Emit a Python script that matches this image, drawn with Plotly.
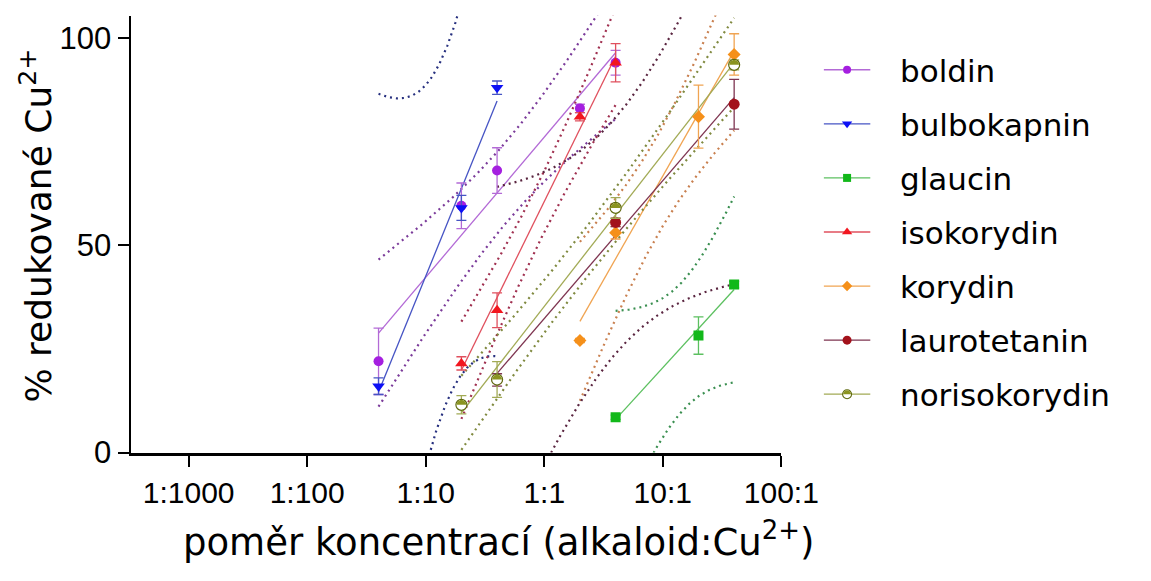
import numpy as np
import plotly.graph_objects as go

FIG_W, FIG_H = 1151, 581

# axis ticks
ratio_ticks = [0.001, 0.01, 0.1, 1, 10, 100]
ratio_labels = ["1:1000", "1:100", "1:10", "1:1", "10:1", "100:1"]
pct_ticks = [0, 50, 100]

series_names = ["boldin", "bulbokapnin", "glaucin", "isokorydin",
                "korydin", "laurotetanin", "norisokorydin"]

# concentration ratio alkaloid:Cu2+, mean % reduced Cu2+, SD
boldin_ratio = [0.04, 0.2, 0.4, 2, 4]
boldin_pct = [22, 59.5, 68, 83, 94]
boldin_sd = [8, 5.5, 5.5, 1, 3]

bulbokapnin_ratio = [0.04, 0.2, 0.4]
bulbokapnin_pct = [16, 59, 88]
bulbokapnin_sd = [2, 3, 1.6]

glaucin_ratio = [4, 20, 40]
glaucin_pct = [8.5, 28.2, 40.5]
glaucin_sd = [0.5, 4.5, 0.8]

isokorydin_ratio = [0.2, 0.4, 2, 4]
isokorydin_pct = [21.5, 34.3, 81, 94]
isokorydin_sd = [1.6, 4.2, 1, 4.6]

korydin_ratio = [2, 4, 20, 40]
korydin_pct = [27, 53, 81, 96]
korydin_sd = [0.5, 1.5, 7.6, 5]

laurotetanin_ratio = [0.4, 4, 40]
laurotetanin_pct = [17.5, 55.5, 84]
laurotetanin_sd = [1.5, 1, 6]

norisokorydin_ratio = [0.2, 0.4, 4, 40]
norisokorydin_pct = [11.5, 17.6, 59, 93.5]
norisokorydin_sd = [2.2, 4.3, 2.5, 1.2]

series_data = {
    "boldin": (boldin_ratio, boldin_pct, boldin_sd),
    "bulbokapnin": (bulbokapnin_ratio, bulbokapnin_pct, bulbokapnin_sd),
    "glaucin": (glaucin_ratio, glaucin_pct, glaucin_sd),
    "isokorydin": (isokorydin_ratio, isokorydin_pct, isokorydin_sd),
    "korydin": (korydin_ratio, korydin_pct, korydin_sd),
    "laurotetanin": (laurotetanin_ratio, laurotetanin_pct, laurotetanin_sd),
    "norisokorydin": (norisokorydin_ratio, norisokorydin_pct, norisokorydin_sd),
}

# marker colour, fit-line colour, confidence-band colour, symbol, size
styles = {
    "boldin": ("#a51fe0", "#b36ad6", "#7b3b9a", "circle", 10),
    "bulbokapnin": ("#0d10f5", "#4654c4", "#27307f", "triangle-down", 11),
    "glaucin": ("#12b81a", "#5cc060", "#3a8f50", "square", 10),
    "isokorydin": ("#f2161f", "#e0505e", "#a03050", "triangle-up", 11),
    "korydin": ("#f5901a", "#f0a452", "#c98050", "diamond", 10),
    "laurotetanin": ("#a3121b", "#7e3450", "#5a2540", "circle", 11),
    "norisokorydin": ("#8b9420", "#a2aa55", "#808a40", "circle", 11),
}

# two-sided 95 % t quantiles by degrees of freedom
T95 = {1: 12.706, 2: 4.303, 3: 3.182, 4: 2.776, 5: 2.571}

# plot rectangle in pixels
PLOT_L, PLOT_R, PLOT_T, PLOT_B = 135, 808, 16, 467
X_RANGE = [-3.49, 2.0]
Y_RANGE = [0, 105.4]
TICK_FONT = "Liberation Sans, Arial, sans-serif"
TEXT_FONT = "DejaVu Sans, Verdana, sans-serif"


def fit_with_band(xs, ys, n_pts=240):
    """Linear fit of y on log10(x) with the 95 % confidence band of the line."""
    lx = np.log10(np.asarray(xs, float))
    y = np.asarray(ys, float)
    n = len(lx)
    slope, icpt = np.polyfit(lx, y, 1)
    resid = y - (icpt + slope * lx)
    s = np.sqrt(np.sum(resid ** 2) / (n - 2))
    xm = lx.mean()
    sxx = np.sum((lx - xm) ** 2)
    grid = np.linspace(lx.min(), lx.max(), n_pts)
    fit = icpt + slope * grid
    half = T95[n - 2] * s * np.sqrt(1.0 / n + (grid - xm) ** 2 / sxx)
    return 10 ** grid, fit, fit - half, fit + half


def half_disc_path(r):
    """Upper half of a circle of radius r (pixels), built from Bezier arcs."""
    k = 0.5523 * r
    return (f"M {-r},0 C {-r},{k} {-k},{r} 0,{r} "
            f"C {k},{r} {r},{k} {r},0 Z")


fig = go.Figure()
shapes = []

# confidence bands and fitted lines
for name in series_names:
    xs, ys, sd = series_data[name]
    mcol, lcol, bcol, sym, size = styles[name]
    gx, fit, lo, hi = fit_with_band(xs, ys)
    for band in (lo, hi):
        fig.add_trace(go.Scatter(
            x=gx, y=band, mode="lines", showlegend=False, hoverinfo="skip",
            line=dict(color=bcol, width=2.2, dash="2px,4px")))
    fig.add_trace(go.Scatter(
        x=[gx[0], gx[-1]], y=[fit[0], fit[-1]], mode="lines",
        showlegend=False, hoverinfo="skip",
        line=dict(color=lcol, width=1.3)))

# data points with SD error bars
for name in series_names:
    xs, ys, sd = series_data[name]
    mcol, lcol, bcol, sym, size = styles[name]
    hollow = name == "norisokorydin"
    fig.add_trace(go.Scatter(
        x=xs, y=ys, mode="markers", name=name, showlegend=False,
        error_y=dict(type="data", array=sd, color=lcol, thickness=1.3, width=5),
        marker=dict(symbol=sym, size=size,
                    color="white" if hollow else mcol,
                    line=dict(color="#5f6a10" if hollow else mcol,
                              width=1.2 if hollow else 0))))
    if hollow:
        for xv, yv in zip(xs, ys):
            shapes.append(dict(
                type="path", xref="x", yref="y", xsizemode="pixel",
                ysizemode="pixel", xanchor=xv, yanchor=yv,
                path=half_disc_path(size / 2 - 0.6),
                fillcolor=mcol, line=dict(width=0), layer="above"))

# legend drawn on a pixel-scaled overlay axis
LEG_LINE = (852, 900)
LEG_MARK = 876
LEG_TEXT = 929
LEG_Y0, LEG_DY = 72, 55.8
annotations = []
for i, name in enumerate(series_names):
    mcol, lcol, bcol, sym, size = styles[name]
    ry = LEG_Y0 + i * LEG_DY
    hollow = name == "norisokorydin"
    fig.add_trace(go.Scatter(
        x=list(LEG_LINE), y=[ry, ry], mode="lines", xaxis="x2", yaxis="y2",
        showlegend=False, hoverinfo="skip", line=dict(color=lcol, width=1.3)))
    fig.add_trace(go.Scatter(
        x=[LEG_MARK], y=[ry], mode="markers", xaxis="x2", yaxis="y2",
        showlegend=False, hoverinfo="skip",
        marker=dict(symbol=sym, size=size - 2,
                    color="white" if hollow else mcol,
                    line=dict(color="#5f6a10" if hollow else mcol,
                              width=1.1 if hollow else 0))))
    if hollow:
        shapes.append(dict(
            type="path", xref="x2", yref="y2", xsizemode="pixel",
            ysizemode="pixel", xanchor=LEG_MARK, yanchor=ry,
            path=half_disc_path((size - 2) / 2 - 0.5),
            fillcolor=mcol, line=dict(width=0), layer="above"))
    annotations.append(dict(
        xref="x2", yref="y2", x=LEG_TEXT, y=ry + 1, text=name, showarrow=False,
        xanchor="left", yanchor="middle",
        font=dict(family=TEXT_FONT, size=31, color="black")))

# axis titles
annotations.append(dict(
    xref="paper", yref="paper", x=516 / FIG_W, y=1 - 557 / FIG_H,
    text="poměr koncentrací (alkaloid:Cu<sup>2+</sup>)", showarrow=False,
    xanchor="center", yanchor="middle",
    font=dict(family=TEXT_FONT, size=37, color="black")))
annotations.append(dict(
    xref="paper", yref="paper", x=37 / FIG_W, y=1 - 233 / FIG_H,
    text="% redukované Cu<sup>2+</sup>", showarrow=False, textangle=-90,
    xanchor="center", yanchor="middle",
    font=dict(family=TEXT_FONT, size=36, color="black")))

fig.update_layout(
    width=FIG_W, height=FIG_H,
    margin=dict(l=0, r=0, t=0, b=0),
    paper_bgcolor="white", plot_bgcolor="rgba(0,0,0,0)",
    showlegend=False,
    shapes=shapes, annotations=annotations,
    xaxis=dict(
        type="log", range=X_RANGE,
        domain=[PLOT_L / FIG_W, PLOT_R / FIG_W], anchor="y",
        tickvals=ratio_ticks, ticktext=ratio_labels,
        ticks="outside", ticklen=11, tickwidth=2, tickcolor="black",
        showline=True, linewidth=3, linecolor="black",
        showgrid=False, zeroline=False,
        tickfont=dict(family=TICK_FONT, size=30, color="black")),
    yaxis=dict(
        range=Y_RANGE,
        domain=[1 - PLOT_B / FIG_H, 1 - PLOT_T / FIG_H], anchor="x",
        tickvals=pct_ticks,
        ticks="outside", ticklen=11, tickwidth=2, tickcolor="black",
        showline=True, linewidth=2, linecolor="black",
        showgrid=False, zeroline=False,
        tickfont=dict(family=TICK_FONT, size=31, color="black")),
    xaxis2=dict(domain=[0, 1], range=[0, FIG_W], anchor="y2",
                visible=False, fixedrange=True),
    yaxis2=dict(domain=[0, 1], range=[FIG_H, 0], anchor="x2",
                visible=False, fixedrange=True),
)

fig.write_html("out.html")
